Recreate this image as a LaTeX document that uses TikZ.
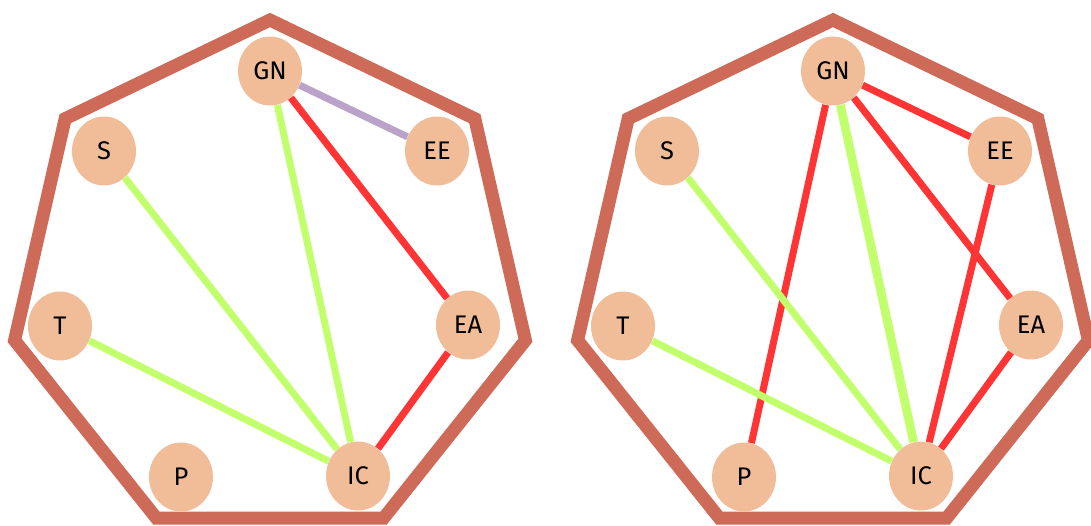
\documentclass[tikz,border=0pt]{standalone}
\usepackage{fontspec}
\setmainfont{Fira Sans}
\usetikzlibrary{shapes.geometric}
\definecolor{topicfill}{HTML}{F1BD98}
\definecolor{rimcol}{HTML}{CD6A58}
\definecolor{poscol}{HTML}{C2FF6C}
\definecolor{negcol}{HTML}{FF3434}
\definecolor{mixcol}{HTML}{BBA2C9}

\begin{document}
\begin{tikzpicture}[x=0.02cm,y=0.02cm]
    \tikzset{topic/.style={ellipse,fill=topicfill,minimum width=1.28cm,minimum height=1.38cm,inner sep=0pt,font=\fontsize{14.5}{17}\selectfont}}
    \tikzset{rim/.style={draw=rimcol,line width=7.4pt,line join=miter}}
    \tikzset{poslink/.style={draw=poscol,line width=4pt}}
    \tikzset{neglink/.style={draw=negcol,line width=4pt}}
    \tikzset{mixlink/.style={draw=mixcol,line width=4pt}}
    \useasboundingbox (0,0) rectangle (1091,525);
    % left panel
    \begin{scope}[shift={(270,243)}]
    \draw[rim] (90:262) \foreach \k in {1,...,6} {-- ({90-\k*360/7}:262)} -- cycle;
    \node[topic] (lGN) at (0,211) {GN};
    \node[topic] (lEE) at (167,131) {EE};
    \node[topic] (lEA) at (198,-43) {EA};
    \node[topic] (lIC) at (88,-194) {IC};
    \node[topic] (lP) at (-89,-195) {P};
    \node[topic] (lT) at (-210,-44) {T};
    \node[topic] (lS) at (-166,131) {S};
    \path
    (lGN)
    edge [mixlink] (lEE)
    edge [neglink] (lEA)
    (lEA)
    edge [neglink] (lIC)
    (lIC)
    edge [poslink] (lGN)
    edge [poslink] (lS)
    edge [poslink] (lT)
    ;
    \end{scope}
    % right panel
    \begin{scope}[shift={(833,243)}]
    \draw[rim] (90:262) \foreach \k in {1,...,6} {-- ({90-\k*360/7}:262)} -- cycle;
    \node[topic] (rGN) at (0,211) {GN};
    \node[topic] (rEE) at (167,131) {EE};
    \node[topic] (rEA) at (198,-43) {EA};
    \node[topic] (rIC) at (88,-194) {IC};
    \node[topic] (rP) at (-89,-195) {P};
    \node[topic] (rT) at (-210,-44) {T};
    \node[topic] (rS) at (-166,131) {S};
    \path
    (rGN)
    edge [neglink] (rP)
    edge [neglink] (rEE)
    edge [neglink] (rEA)
    (rIC)
    edge [neglink] (rEE)
    edge [neglink] (rEA)
    edge [poslink,line width=5pt] (rGN)
    edge [poslink] (rS)
    edge [poslink] (rT)
    ;
    \end{scope}
\end{tikzpicture}
\end{document}
